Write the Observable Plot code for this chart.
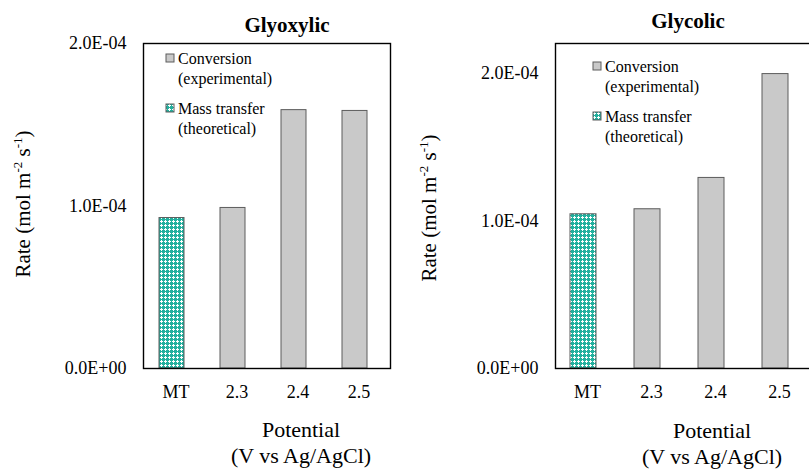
<!DOCTYPE html>
<html><head><meta charset="utf-8">
<script src="https://cdn.jsdelivr.net/npm/d3@7"></script>
<script src="https://cdn.jsdelivr.net/npm/@observablehq/plot@0.6"></script>
<style>
body{margin:0;background:#fff;}
#wrap{position:relative;width:809px;height:469px;overflow:hidden;font-family:"Liberation Serif","Times New Roman",serif;}
#wrap > svg{position:absolute;top:0;overflow:visible;}
#wrap svg, #wrap svg text{font-family:"Liberation Serif","Times New Roman",serif !important;}
#wrap svg g[aria-label="y-axis tick label"]{font-size:18px !important;}
#wrap svg g[aria-label="x-axis tick label"]{font-size:18px !important;}
</style></head><body><div id="wrap"></div>
<script>
const categories = ["MT", "2.3", "2.4", "2.5"];
const glyoxylicRates = [0.926e-4, 0.988e-4, 1.59e-4, 1.585e-4];
const glycolicRates = [1.044e-4, 1.078e-4, 1.29e-4, 1.993e-4];
const yTicks = [0, 1e-4, 2e-4];
const legendLabels = [["Conversion", "(experimental)"], ["Mass transfer", "(theoretical)"]];
const titles = ["Glyoxylic", "Glycolic"];
const xTitle = ["Potential", "(V vs Ag/AgCl)"];

const FONT = "'Liberation Serif','Times New Roman',serif";
const GRAY = "#c9c9c9", EDGE = "#5c5c5c", TEAL = "#22b09e";

function fmt(v) {
  if (v === 0) return "0.0E+00";
  const [m, e] = v.toExponential(1).split("e");
  const n = +e;
  return m + "E" + (n < 0 ? "-" : "+") + String(Math.abs(n)).padStart(2, "0");
}

const panels = [
  {values: glyoxylicRates, yMax: 2e-4, left: 0, width: 405, mL: 143, mR: 15, insetL: 14, insetR: 22,
   titleX: 287, titleY: 32, yTitleX: 30, yTitleY: 204, xTitleX: 301, xTitleY: 437,
   legX: 166, legY: 64},
  {values: glycolicRates, yMax: 2.2e-4, left: 405, width: 406, mL: 150, mR: 0, insetL: 15, insetR: 23,
   titleX: 283, titleY: 28, yTitleX: 31, yTitleY: 208, xTitleX: 307, xTitleY: 438,
   legX: 188, legY: 72}
];

const wrap = document.getElementById("wrap");

panels.forEach((p, i) => {
  const data = categories.map((c, k) => ({cat: c, value: p.values[k]}));
  const pid = "mtpat" + i;
  const chart = Plot.plot({
    width: p.width, height: 469,
    marginLeft: p.mL, marginRight: p.mR, marginTop: 43, marginBottom: 101,
    style: {fontFamily: FONT, fontSize: "17px", color: "#000", background: "transparent"},
    x: {domain: categories, padding: 0, label: null, tickSize: 0, tickPadding: 17},
    y: {domain: [0, p.yMax], ticks: yTicks, tickFormat: fmt, label: null, tickSize: 0, tickPadding: 17},
    marks: [
      Plot.barY(data.filter(d => d.cat === "MT"), {x: "cat", y: "value", fill: `url(#${pid})`, stroke: EDGE, strokeWidth: 1, insetLeft: p.insetL, insetRight: p.insetR}),
      Plot.barY(data.filter(d => d.cat !== "MT"), {x: "cat", y: "value", fill: GRAY, stroke: EDGE, strokeWidth: 1, insetLeft: p.insetL, insetRight: p.insetR}),
      Plot.frame({stroke: "#000", strokeWidth: 1.4})
    ]
  });
  chart.style.left = p.left + "px";
  wrap.appendChild(chart);
  const svg = d3.select(chart);

  const defs = svg.insert("defs", ":first-child");
  const pat = defs.append("pattern").attr("id", pid).attr("patternUnits", "userSpaceOnUse")
    .attr("width", 4).attr("height", 4);
  pat.append("rect").attr("width", 4).attr("height", 4).attr("fill", TEAL);
  pat.append("rect").attr("x", 1).attr("y", 0).attr("width", 1).attr("height", 3).attr("fill", "#fff");
  pat.append("rect").attr("x", 0).attr("y", 1).attr("width", 3).attr("height", 1).attr("fill", "#fff");

  const g = svg.append("g").attr("fill", "#000").attr("text-anchor", "start");
  g.append("text").attr("x", p.titleX).attr("y", p.titleY).attr("text-anchor", "middle")
    .attr("font-size", 21).attr("font-weight", "bold").text(titles[i]);

  const yt = g.append("text").attr("transform", `translate(${p.yTitleX},${p.yTitleY}) rotate(-90)`)
    .attr("text-anchor", "middle").attr("font-size", 21);
  yt.append("tspan").text("Rate (mol m");
  yt.append("tspan").attr("dy", -8).attr("font-size", 13).text("-2");
  yt.append("tspan").attr("dy", 8).text(" s");
  yt.append("tspan").attr("dy", -8).attr("font-size", 13).text("-1");
  yt.append("tspan").attr("dy", 8).text(")");

  xTitle.forEach((t, k) => {
    g.append("text").attr("x", p.xTitleX).attr("y", p.xTitleY + k * 26).attr("text-anchor", "middle")
      .attr("font-size", 22).text(t);
  });

  legendLabels.forEach((lines, k) => {
    const y0 = p.legY + k * 50;
    g.append("rect").attr("x", p.legX).attr("y", y0 - 10).attr("width", 8).attr("height", 8)
      .attr("stroke", EDGE).attr("stroke-width", 1)
      .attr("fill", k === 0 ? GRAY : `url(#${pid})`);
    lines.forEach((t, j) => {
      g.append("text").attr("x", p.legX + 12).attr("y", y0 + j * 20).attr("text-anchor", "start")
        .attr("font-size", 16).text(t);
    });
  });
});
</script></body></html>
